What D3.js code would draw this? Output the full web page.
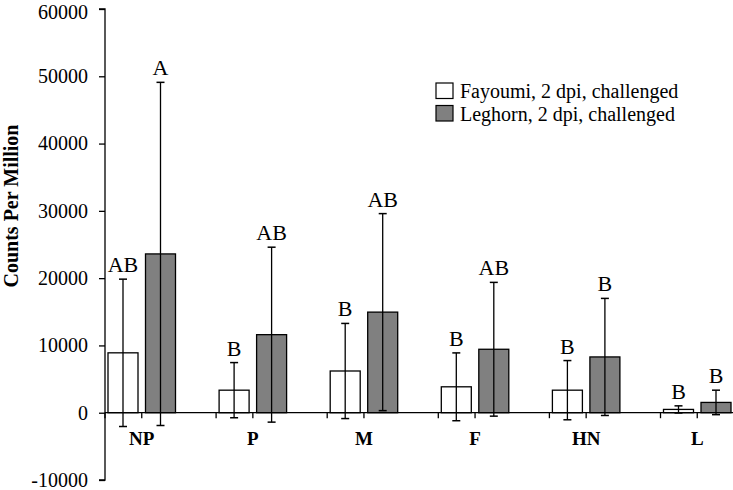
<!DOCTYPE html>
<html>
<head>
<meta charset="utf-8">
<script src="https://cdn.jsdelivr.net/npm/d3@7"></script>
<style>
html,body{margin:0;padding:0;background:#fff;}
svg{display:block;font-family:"Liberation Serif","Times New Roman",serif;}
</style>
</head>
<body>
<svg id="chart" width="733" height="490"></svg>
<script>
const categories = ["NP", "P", "M", "F", "HN", "L"];
const seriesNames = ["Fayoumi, 2 dpi, challenged", "Leghorn, 2 dpi, challenged"];
const fayoumiMean = [8900, 3350, 6200, 3850, 3350, 490];
const fayoumiSD   = [10950, 4100, 7070, 5040, 4400, 530];
const leghornMean = [23600, 11600, 14950, 9430, 8290, 1530];
const leghornSD   = [25500, 13000, 14640, 9940, 8700, 1820];
const fayoumiLetters = ["AB", "B", "B", "B", "B", "B"];
const leghornLetters = ["A", "AB", "AB", "AB", "B", "B"];
const yTicks = [-10000, 0, 10000, 20000, 30000, 40000, 50000, 60000];
const yTitle = "Counts Per Million";

const svg = d3.select("#chart");
const axisX = 105, bandW = 111.1;
const y = d3.scaleLinear().domain([-10000, 60000]).range([480, 9]);
const x0 = d3.scaleBand().domain(categories).range([axisX, axisX + bandW * categories.length]).paddingInner(0).paddingOuter(0);
const x1 = d3.scaleBand().domain(seriesNames).range([3, 70.5]).paddingInner(0.2).paddingOuter(0);
const fills = ["#ffffff", "#808080"];

const data = categories.map((c, i) => ({
  cat: c,
  vals: [
    {s: seriesNames[0], m: fayoumiMean[i], sd: fayoumiSD[i], l: fayoumiLetters[i], f: fills[0]},
    {s: seriesNames[1], m: leghornMean[i], sd: leghornSD[i], l: leghornLetters[i], f: fills[1]}
  ]
}));

const zeroY = y(0);

// Y axis
const yAxis = d3.axisLeft(y).tickValues(yTicks).tickSize(6).tickPadding(11).tickFormat(d => String(d));
const gy = svg.append("g").attr("transform", `translate(${axisX},0)`).call(yAxis);
gy.select(".domain").attr("stroke", "#000").attr("stroke-width", 1.3).attr("d", `M-6,${y(60000)}H0V${y(-10000)}H-6`);
gy.selectAll(".tick line").attr("stroke", "#000").attr("stroke-width", 1.3);
gy.selectAll(".tick text").attr("font-size", 20).attr("font-family", '"Liberation Serif","Times New Roman",serif').attr("fill", "#000")
  .attr("dy", d => d === 60000 ? "0.48em" : "0.32em");

// Bars
const groups = svg.append("g").selectAll("g").data(data).join("g")
  .attr("transform", d => `translate(${x0(d.cat)},0)`);

groups.selectAll("rect").data(d => d.vals).join("rect")
  .attr("x", d => x1(d.s))
  .attr("width", x1.bandwidth())
  .attr("y", d => y(Math.max(0, d.m)))
  .attr("height", d => Math.abs(y(d.m) - zeroY))
  .attr("fill", d => d.f)
  .attr("stroke", "#000")
  .attr("stroke-width", 1.3);

// X axis line
svg.append("line").attr("x1", axisX).attr("x2", 733).attr("y1", zeroY).attr("y2", zeroY)
  .attr("stroke", "#000").attr("stroke-width", 1.3);

// X ticks: at band starts and between bars
categories.forEach(c => {
  const b = x0(c);
  const mid = (x1(seriesNames[0]) + x1.bandwidth() + x1(seriesNames[1])) / 2;
  [b, b + mid].forEach(t => {
    svg.append("line").attr("x1", t).attr("x2", t).attr("y1", zeroY).attr("y2", zeroY + 5.5)
      .attr("stroke", "#000").attr("stroke-width", 1.3);
  });
  svg.append("text").attr("x", b + mid).attr("y", 445).attr("text-anchor", "middle")
    .attr("font-size", 19).attr("font-weight", "bold").text(c);
});

// Error bars
const cap = 4;
groups.each(function(d) {
  const g = d3.select(this);
  d.vals.forEach(v => {
    const cx = x1(v.s) + x1.bandwidth() / 2;
    const top = y(v.m + v.sd), bot = y(v.m - v.sd);
    g.append("line").attr("x1", cx).attr("x2", cx).attr("y1", top).attr("y2", bot)
      .attr("stroke", "#000").attr("stroke-width", 1.3);
    [top, bot].forEach(yy => g.append("line").attr("x1", cx - cap).attr("x2", cx + cap)
      .attr("y1", yy).attr("y2", yy).attr("stroke", "#000").attr("stroke-width", 1.5));
    g.append("text").attr("x", cx).attr("y", top - 7).attr("text-anchor", "middle")
      .attr("font-size", 22).text(v.l);
  });
});

// Y title
svg.append("text").attr("transform", `translate(17.5,206) rotate(-90)`).attr("text-anchor", "middle")
  .attr("font-size", 20).attr("font-weight", "bold").text(yTitle);

// Legend
const leg = svg.append("g");
seriesNames.forEach((s, i) => {
  const yy = 83 + i * 22.5;
  leg.append("rect").attr("x", 436).attr("y", yy).attr("width", 17).attr("height", 15.5)
    .attr("fill", fills[i]).attr("stroke", "#000").attr("stroke-width", 1.2);
  leg.append("text").attr("x", 460).attr("y", yy + 15).attr("font-size", 20).text(s);
});
</script>
</body>
</html>
